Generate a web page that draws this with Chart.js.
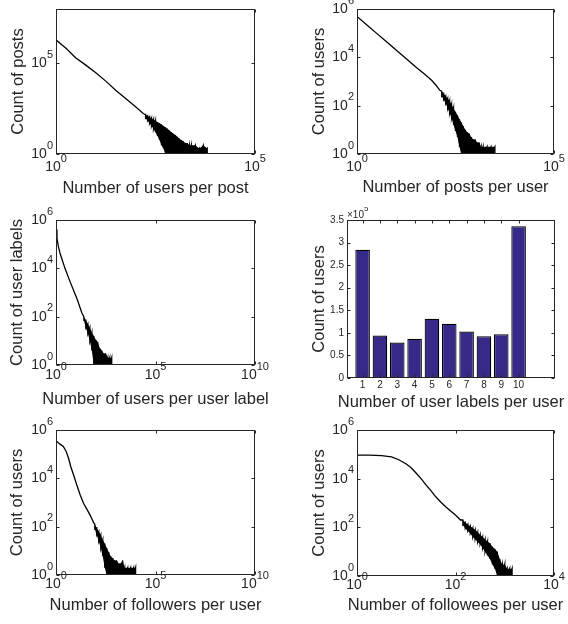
<!DOCTYPE html>
<html>
<head>
<meta charset="utf-8">
<script src="https://cdn.jsdelivr.net/npm/chart.js@4.4.1/dist/chart.umd.min.js"></script>
<style>
  html, body { margin: 0; padding: 0; background: #fff; }
  body { width: 568px; height: 624px; position: relative; overflow: hidden; }
  canvas { position: absolute; }
</style>
</head>
<body>
<canvas id="c1"></canvas>
<canvas id="c2"></canvas>
<canvas id="c3"></canvas>
<canvas id="c4"></canvas>
<canvas id="c5"></canvas>
<canvas id="c6"></canvas>
<script>
// ---- data ----

// users per post
const postCurveX = [1, 1.26, 1.78, 3.16, 5.62, 10, 17.8, 31.6, 56.2, 100, 158];
const postCurveY = [2.0e6, 1.3e6, 6.8e5, 2.0e5, 8.0e4, 3.0e4, 1.05e4, 3.3e3, 1.15e3, 400, 166];
const postSpreadX = [178, 200, 224, 251, 282, 316, 355, 398, 447, 501, 562, 631, 708, 794, 891, 1000, 1120, 1260, 1410, 1580, 1780, 2000, 2240, 2510, 3160, 3980, 5010, 6310];
const postSpreadHigh = [150, 125, 110, 95, 80, 70, 58, 50, 42, 35, 30, 25, 20, 16, 13, 11, 9, 7, 6, 5, 4, 4, 3, 3, 3, 2, 3, 2];
const postSpreadLow = [95, 70, 50, 35, 25, 16, 10, 6, 3, 2, 1, 1, 1, 1, 1, 1, 1, 1, 1, 1, 1, 1, 1, 1, 1, 1, 1, 1];
const postTailX = [7940, 12600, 22400, 39800];
const postTailY = [1, 1, 1, 1];

// posts per user
const userPostCurveX = [1, 1.78, 3.16, 5.62, 10, 17.8, 31.6, 56.2, 79.4, 100, 126];
const userPostCurveY = [4.9e5, 2.2e5, 9.8e4, 4.4e4, 1.95e4, 8.7e3, 3.9e3, 1.8e3, 1.1e3, 720, 435];
const userPostSpreadX = [141, 158, 178, 200, 224, 251, 282, 316, 355, 398, 447, 501, 562, 631, 708, 794, 891, 1000, 1120, 1260, 1410, 1580, 2000, 2510, 3160];
const userPostSpreadHigh = [400, 316, 250, 200, 158, 112, 79, 56, 40, 28, 20, 14, 10, 8, 7, 5, 4, 4, 3, 3, 2, 2, 2, 2, 2];
const userPostSpreadLow = [250, 178, 126, 79, 50, 32, 16, 9, 5, 2, 1, 1, 1, 1, 1, 1, 1, 1, 1, 1, 1, 1, 1, 1, 1];
const userPostTailX = [5010, 8910, 20000];
const userPostTailY = [1, 1, 1];

// users per user label
const labelCurveX = [1, 1.12, 1.32, 1.58, 2.34, 2.82, 5.13, 11.2, 20];
const labelCurveY = [4.0e5, 1.8e5, 7.9e4, 4.3e4, 1.6e4, 1.0e4, 2.75e3, 560, 141];
const labelSpreadX = [25.1, 31.6, 39.8, 50.1, 63.1, 79.4, 100, 126, 158, 200, 251, 316, 398, 501, 631];
const labelSpreadHigh = [100, 71, 50, 35, 22, 16, 11, 9, 5, 4, 3, 3, 2, 2, 2];
const labelSpreadLow = [71, 35, 20, 10, 4, 1, 1, 1, 1, 1, 1, 1, 1, 1, 1];
const labelTailX = [1000, 1.0e5, 8.9e5];
const labelTailY = [1, 1, 1];

// user labels per user (bars)
const labelsPerUser = [1, 2, 3, 4, 5, 6, 7, 8, 9, 10];
const usersByLabelCount = [2.84e5, 0.94e5, 0.785e5, 0.867e5, 1.31e5, 1.2e5, 1.03e5, 0.926e5, 0.97e5, 3.36e5];

// followers per user
const followerCurveX = [1, 1.58, 2.34, 3.24, 4.27, 5.50, 7.59, 11.2, 16.6, 24.5, 35.5, 52.5, 77.6];
const followerCurveY = [3.6e5, 2.6e5, 2.1e5, 1.3e5, 6.8e4, 3.1e4, 1.4e4, 5.2e3, 2.0e3, 910, 530, 295, 147];
const followerSpreadX = [89.1, 112, 141, 178, 224, 282, 355, 447, 562, 708, 891, 1120, 1410, 1780, 2240, 2820, 3980, 5620, 7940, 10000];
const followerSpreadHigh = [126, 89, 63, 45, 28, 20, 13, 9, 6, 5, 4, 4, 3, 3, 4, 2, 2, 2, 2, 2];
const followerSpreadLow = [79, 45, 25, 13, 6, 2, 1, 1, 1, 1, 1, 1, 1, 1, 1, 1, 1, 1, 1, 1];
const followerTailX = [31600, 3.3e5];
const followerTailY = [1, 1];

// followees per user
const followeeCurveX = [1, 1.78, 3.16, 5.01, 7.08, 10, 12.6, 15.8, 20, 25.1, 31.6, 39.8, 50.1, 63.1, 79.4, 100, 126];
const followeeCurveY = [9.3e4, 9.2e4, 8.8e4, 7.8e4, 6.0e4, 4.0e4, 2.8e4, 1.7e4, 1.0e4, 5.6e3, 3.2e3, 1.8e3, 1.1e3, 700, 470, 320, 200];
const followeeSpreadX = [141, 158, 178, 200, 224, 251, 282, 316, 355, 398, 447, 501, 562, 631, 708, 794, 891, 1000, 1120, 1260, 1410];
const followeeSpreadHigh = [200, 158, 132, 112, 93, 79, 63, 50, 40, 32, 26, 22, 16, 13, 10, 5, 3, 3, 2, 2, 2];
const followeeSpreadLow = [126, 89, 71, 56, 40, 32, 25, 20, 14, 10, 7, 5, 3, 2, 1, 1, 1, 1, 1, 1, 1];
const followeeTailX = [];
const followeeTailY = [];

// tick values and labels ("^" marks the exponent)
const ticks0to5 = [1, 1e5];
const ticks0to5Labels = ['10^0', '10^5'];
const ticks0to10 = [1, 1e5, 1e10];
const ticks0to10Labels = ['10^0', '10^5', '10^10'];
const ticks0to6 = [1, 1e2, 1e4, 1e6];
const ticks0to6Labels = ['10^0', '10^2', '10^4', '10^6'];
const ticks0to4 = [1, 1e2, 1e4];
const ticks0to4Labels = ['10^0', '10^2', '10^4'];
const barYTicks = [0, 0.5e5, 1e5, 1.5e5, 2e5, 2.5e5, 3e5, 3.5e5];
const barYTickLabels = ['0', '0.5', '1', '1.5', '2', '2.5', '3', '3.5'];
const barXTickLabels = ['1', '2', '3', '4', '5', '6', '7', '8', '9', '10'];

// ---- drawing ----
const FONT = '"Liberation Sans", Arial, Helvetica, sans-serif';
const INK = '#262626';
Chart.defaults.font.family = FONT;
Chart.defaults.color = INK;

// text with optional raised exponent, y is the centre of the base text
function drawPowerText(ctx, text, x, y, size, align) {
  const parts = text.split('^');
  const base = parts[0], exp = parts[1];
  const expSize = Math.round(size * 0.76);
  ctx.font = size + 'px ' + FONT;
  const bw = ctx.measureText(base).width;
  let ew = 0;
  if (exp) {
    ctx.font = expSize + 'px ' + FONT;
    ew = ctx.measureText(exp).width;
  }
  const total = bw + ew;
  const left = align === 'right' ? x - total : align === 'left' ? x : x - total / 2;
  ctx.textAlign = 'left';
  ctx.textBaseline = 'middle';
  ctx.font = size + 'px ' + FONT;
  ctx.fillText(base, left, y);
  if (exp) {
    ctx.font = expSize + 'px ' + FONT;
    ctx.fillText(exp, left + bw, y - size * 0.6);
  }
}

// matlab style box: frame, inward ticks on all sides, tick labels, axis titles
function boxAxes(o) {
  return {
    id: 'boxAxes',
    afterDatasetsDraw(chart) {
      const ctx = chart.ctx, a = chart.chartArea, x = chart.scales.x, y = chart.scales.y;
      const L = Math.round(a.left) + 0.5, R = Math.round(a.right) - 0.5;
      const T = Math.round(a.top) + 0.5, B = Math.round(a.bottom) - 0.5;
      ctx.save();
      ctx.strokeStyle = INK;
      ctx.lineWidth = 1;
      ctx.strokeRect(L, T, R - L, B - T);
      ctx.beginPath();
      x.ticks.forEach(t => {
        const px = Math.round(x.getPixelForValue(t.value)) + 0.5;
        ctx.moveTo(px, B); ctx.lineTo(px, B - 3);
        ctx.moveTo(px, T); ctx.lineTo(px, T + 3);
      });
      y.ticks.forEach(t => {
        const py = Math.round(y.getPixelForValue(t.value)) + 0.5;
        ctx.moveTo(L, py); ctx.lineTo(L + 3, py);
        ctx.moveTo(R, py); ctx.lineTo(R - 3, py);
      });
      ctx.stroke();

      ctx.fillStyle = INK;
      const labelY = a.bottom + o.xGap;
      x.ticks.forEach((t, i) => drawPowerText(ctx, o.xLabels[i], x.getPixelForValue(t.value), labelY, o.tickSize, 'center'));
      y.ticks.forEach((t, i) => drawPowerText(ctx, o.yLabels[i], a.left - 3, y.getPixelForValue(t.value), o.tickSize, 'right'));
      if (o.multiplier) drawPowerText(ctx, o.multiplier, a.left, a.top - 5, 10, 'left');

      ctx.font = '16.5px ' + FONT;
      ctx.textAlign = 'center';
      ctx.textBaseline = 'middle';
      ctx.fillText(o.xTitle, (a.left + a.right) / 2, o.xTitleY);
      ctx.translate(o.yTitleX, (a.top + a.bottom) / 2);
      ctx.rotate(-Math.PI / 2);
      ctx.fillText(o.yTitle, 0, 0);
      ctx.restore();
    }
  };
}

function curvePoints(xs, ys, spreadX, high, low, tailX, tailY) {
  const pts = xs.map((x, i) => ({ x, y: ys[i] }));
  spreadX.forEach((x, i) => pts.push({ x, y: high[i] }, { x, y: low[i] }));
  tailX.forEach((x, i) => pts.push({ x, y: tailY[i] }));
  return pts;
}

// the dense scatter of the tail: zig-zag line plus a solid band between its envelopes
function tailDatasets(xs, ys, spreadX, high, low, tailX, tailY) {
  const plain = { borderColor: '#000', pointRadius: 0, tension: 0 };
  return [
    Object.assign({ data: curvePoints(xs, ys, spreadX, high, low, tailX, tailY), borderWidth: 1.3, fill: false }, plain),
    Object.assign({ data: spreadX.map((x, i) => ({ x, y: high[i] })), borderWidth: 0, fill: '+1', backgroundColor: '#000' }, plain),
    Object.assign({ data: spreadX.map((x, i) => ({ x, y: low[i] })), borderWidth: 0, fill: false }, plain)
  ];
}

function axis(type, min, max, values) {
  return {
    type, min, max, offset: false,
    afterBuildTicks: s => { s.ticks = values.map(v => ({ value: v })); },
    ticks: { display: false },
    grid: { display: false, drawTicks: false },
    border: { display: false }
  };
}

function panel(id, frame, plot, text, type, datasets, xScale, yScale) {
  const cv = document.getElementById(id);
  cv.width = frame.w;
  cv.height = frame.h;
  cv.style.left = frame.x + 'px';
  cv.style.top = frame.y + 'px';
  xScale.afterFit = s => { s.height = frame.y + frame.h - plot.bottom; };
  yScale.afterFit = s => { s.width = plot.left - frame.x; };
  const o = Object.assign({}, text, { xTitleY: text.xTitleY - frame.y, yTitleX: text.yTitleX - frame.x });
  new Chart(cv, {
    type,
    data: { datasets },
    options: {
      responsive: false,
      animation: false,
      events: [],
      layout: { padding: { left: 0, bottom: 0, top: plot.top - frame.y, right: frame.x + frame.w - plot.right } },
      scales: { x: xScale, y: yScale },
      plugins: { legend: { display: false }, tooltip: { enabled: false } }
    },
    plugins: [boxAxes(o)]
  });
}

panel('c1', { x: 0, y: 0, w: 284, h: 207 }, { left: 56, right: 255, top: 9, bottom: 154 },
  { xTitle: 'Number of users per post', yTitle: 'Count of posts', xTitleY: 188, yTitleX: 18,
    xLabels: ticks0to5Labels, yLabels: ticks0to5Labels, tickSize: 14, xGap: 13 },
  'line', tailDatasets(postCurveX, postCurveY, postSpreadX, postSpreadHigh, postSpreadLow, postTailX, postTailY),
  axis('logarithmic', 1, 1e5, ticks0to5),
  axis('logarithmic', 1, 1e8, ticks0to5));

panel('c2', { x: 284, y: 0, w: 284, h: 207 }, { left: 357, right: 554, top: 9, bottom: 154 },
  { xTitle: 'Number of posts per user', yTitle: 'Count of users', xTitleY: 187, yTitleX: 319,
    xLabels: ticks0to5Labels, yLabels: ticks0to6Labels, tickSize: 14, xGap: 13 },
  'line', tailDatasets(userPostCurveX, userPostCurveY, userPostSpreadX, userPostSpreadHigh, userPostSpreadLow, userPostTailX, userPostTailY),
  axis('logarithmic', 1, 1e5, ticks0to5),
  axis('logarithmic', 1, 1e6, ticks0to6));

panel('c3', { x: 0, y: 207, w: 284, h: 208 }, { left: 56, right: 255, top: 220, bottom: 365 },
  { xTitle: 'Number of users per user label', yTitle: 'Count of user labels', xTitleY: 399.5, yTitleX: 17.5,
    xLabels: ticks0to10Labels, yLabels: ticks0to6Labels, tickSize: 14, xGap: 10 },
  'line', tailDatasets(labelCurveX, labelCurveY, labelSpreadX, labelSpreadHigh, labelSpreadLow, labelTailX, labelTailY),
  axis('logarithmic', 1, 1e10, ticks0to10),
  axis('logarithmic', 1, 1e6, ticks0to6));

panel('c4', { x: 284, y: 207, w: 284, h: 208 }, { left: 347, right: 555, top: 220, bottom: 378 },
  { xTitle: 'Number of user labels per user', yTitle: 'Count of users', xTitleY: 402, yTitleX: 319,
    xLabels: barXTickLabels, yLabels: barYTickLabels, tickSize: 10, xGap: 7, multiplier: '×10^5' },
  'bar',
  [{
    data: labelsPerUser.map((x, i) => ({ x, y: usersByLabelCount[i] })),
    backgroundColor: '#352A87', borderColor: '#000', borderWidth: 1.2,
    barPercentage: 0.84, categoryPercentage: 1
  }],
  axis('linear', 0.1, 12.1, labelsPerUser),
  axis('linear', 0, 3.5e5, barYTicks));

panel('c5', { x: 0, y: 415, w: 284, h: 209 }, { left: 56, right: 255, top: 430, bottom: 575 },
  { xTitle: 'Number of followers per user', yTitle: 'Count of users', xTitleY: 605, yTitleX: 17.5,
    xLabels: ticks0to10Labels, yLabels: ticks0to6Labels, tickSize: 14, xGap: 9.5 },
  'line', tailDatasets(followerCurveX, followerCurveY, followerSpreadX, followerSpreadHigh, followerSpreadLow, followerTailX, followerTailY),
  axis('logarithmic', 1, 1e10, ticks0to10),
  axis('logarithmic', 1, 1e6, ticks0to6));

panel('c6', { x: 284, y: 415, w: 284, h: 209 }, { left: 357, right: 554, top: 430, bottom: 576 },
  { xTitle: 'Number of followees per user', yTitle: 'Count of users', xTitleY: 605, yTitleX: 319,
    xLabels: ticks0to4Labels, yLabels: ticks0to6Labels, tickSize: 14, xGap: 9.5 },
  'line', tailDatasets(followeeCurveX, followeeCurveY, followeeSpreadX, followeeSpreadHigh, followeeSpreadLow, followeeTailX, followeeTailY),
  axis('logarithmic', 1, 1e4, ticks0to4),
  axis('logarithmic', 1, 1e6, ticks0to6));
</script>
</body>
</html>
